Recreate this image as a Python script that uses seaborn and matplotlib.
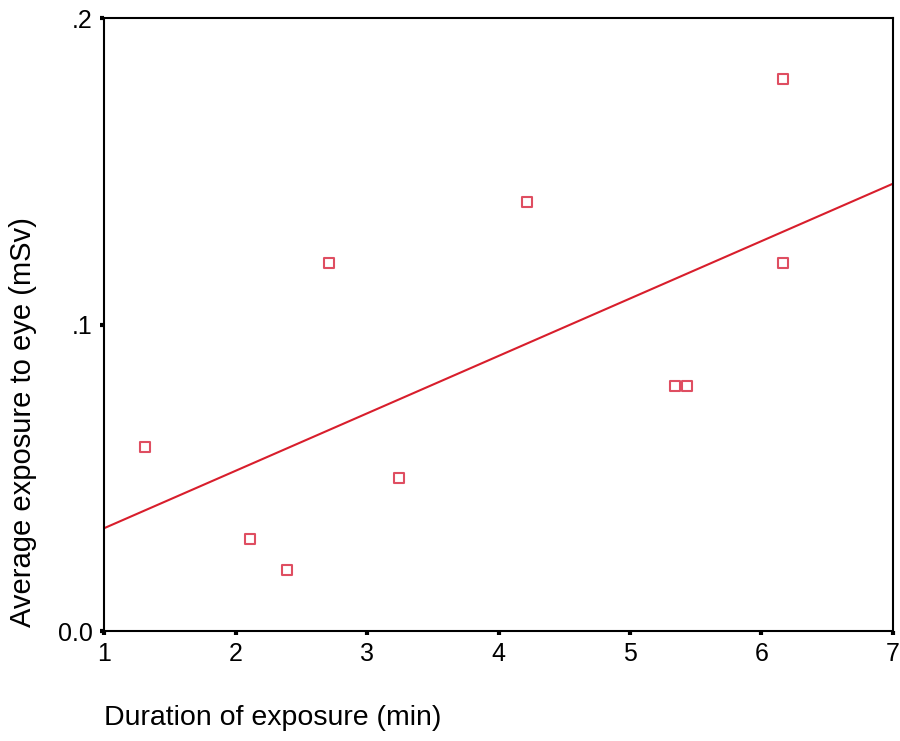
import matplotlib
matplotlib.use("Agg")
import matplotlib.pyplot as plt
import seaborn as sns
import pandas as pd

# data
duration_min = [1.31, 2.11, 2.39, 2.71, 3.24, 4.22, 5.34, 5.43, 6.16, 6.16]
eye_exposure_msv = [0.06, 0.03, 0.02, 0.12, 0.05, 0.14, 0.08, 0.08, 0.18, 0.12]

x_ticks = [1, 2, 3, 4, 5, 6, 7]
y_ticks = [0.0, 0.1, 0.2]
y_tick_labels = ["0.0", ".1", ".2"]

df = pd.DataFrame({"duration": duration_min, "exposure": eye_exposure_msv})

sns.set_style("white")
plt.rcParams["font.family"] = ["Liberation Sans", "DejaVu Sans"]

fig = plt.figure(figsize=(9, 7.41), dpi=100)
ax = fig.add_axes([0.1156, 0.1484, 0.8766, 0.8273])

# limits first so that the fitted line spans the whole axis
ax.set_xlim(1, 7)
ax.set_ylim(0, 0.2)

red = "#d81e2c"
sns.regplot(
    data=df, x="duration", y="exposure", ax=ax, ci=None, truncate=False,
    marker="s",
    scatter_kws=dict(s=52, facecolors="none", edgecolors="#d8223a", linewidths=1.5, zorder=3),
    line_kws=dict(color=red, linewidth=1.5),
)

ax.set_xlim(1, 7)
ax.set_ylim(0, 0.2)
ax.set_xticks(x_ticks)
ax.set_xticklabels([str(t) for t in x_ticks])
ax.set_yticks(y_ticks)
ax.set_yticklabels(y_tick_labels)
ax.tick_params(axis="both", direction="out", length=3, width=3, labelsize=18,
               color="black", labelcolor="black", pad=5, bottom=True, left=True)
for sp in ax.spines.values():
    sp.set_color("black")
    sp.set_linewidth(1.5)

ax.set_xlabel("")
ax.set_ylabel("")
fig.text(0.1156, 0.031, "Duration of exposure (min)", fontsize=20.5, color="black",
         ha="left", va="center")
fig.text(0.026, 0.43, "Average exposure to eye (mSv)", fontsize=21, color="black",
         rotation=90, ha="center", va="center")

fig.savefig("out.png", dpi=100)
